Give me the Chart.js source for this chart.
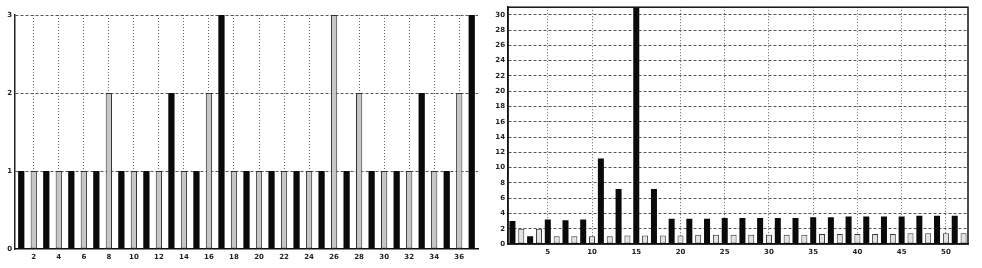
<!DOCTYPE html>
<html>
<head>
<meta charset="utf-8">
<script src="https://cdn.jsdelivr.net/npm/chart.js@4/dist/chart.umd.min.js"></script>
<style>
  html, body { margin: 0; padding: 0; background: #fff; }
  #wrap { position: relative; width: 982px; height: 268px; overflow: hidden; }
  canvas { position: absolute; top: 0; }
  #leftChart { left: 0; }
  #rightChart { left: 492px; }
</style>
</head>
<body>
<div id="wrap">
  <canvas id="leftChart" width="482" height="268"></canvas>
  <canvas id="rightChart" width="490" height="268"></canvas>
</div>
<script>
// Dados do gráfico da esquerda (uma barra por categoria, preta/cinza alternadas)
const leftCategories = [1, 2, 3, 4, 5, 6, 7, 8, 9, 10, 11, 12, 13, 14, 15, 16, 17, 18, 19,
  20, 21, 22, 23, 24, 25, 26, 27, 28, 29, 30, 31, 32, 33, 34, 35, 36, 37];
const leftValues = [1, 1, 1, 1, 1, 1, 1, 2, 1, 1, 1, 1, 2, 1, 1, 2, 3, 1, 1,
  1, 1, 1, 1, 1, 1, 3, 1, 2, 1, 1, 1, 1, 2, 1, 1, 2, 3];
const leftXTicks = [2, 4, 6, 8, 10, 12, 14, 16, 18, 20, 22, 24, 26, 28, 30, 32, 34, 36];
const leftYTicks = [0, 1, 2, 3];

// Dados do gráfico da direita
const rightCategories = [1, 2, 3, 4, 5, 6, 7, 8, 9, 10, 11, 12, 13, 14, 15, 16, 17, 18,
  19, 20, 21, 22, 23, 24, 25, 26, 27, 28, 29, 30, 31, 32, 33, 34, 35, 36, 37, 38, 39, 40,
  41, 42, 43, 44, 45, 46, 47, 48, 49, 50, 51, 52];
const rightValues = [3.0, 2.0, 1.0, 2.0, 3.2, 1.0, 3.1, 1.0, 3.2, 1.0, 11.2, 1.0, 7.2, 1.1,
  32, 1.1, 7.2, 1.1, 3.3, 1.1, 3.3, 1.2, 3.3, 1.2, 3.4, 1.2, 3.4, 1.2, 3.4, 1.2, 3.4, 1.2,
  3.4, 1.2, 3.5, 1.3, 3.5, 1.3, 3.6, 1.3, 3.6, 1.3, 3.6, 1.3, 3.6, 1.4, 3.7, 1.4, 3.7, 1.4,
  3.7, 1.4];
const rightXTicks = [5, 10, 15, 20, 25, 30, 35, 40, 45, 50];
const rightYTicks = [0, 2, 4, 6, 8, 10, 12, 14, 16, 18, 20, 22, 24, 26, 28, 30];

Chart.defaults.font.family = "'DejaVu Sans', sans-serif";
Chart.defaults.font.size = 7;
Chart.defaults.font.weight = "bold";
Chart.defaults.color = "#222";

// Moldura completa (só no gráfico da direita)
const framePlugin = {
  id: "frame",
  afterDatasetsDraw(chart) {
    const { ctx, chartArea: a } = chart;
    ctx.save();
    ctx.strokeStyle = "#111";
    ctx.lineWidth = 1.5;
    ctx.strokeRect(a.left, a.top, a.right - a.left, a.bottom - a.top);
    ctx.restore();
  },
};

function makeChart(id, cfg) {
  const ctx = document.getElementById(id).getContext("2d");
  return new Chart(ctx, {
    type: "bar",
    data: {
      labels: cfg.categories,
      datasets: [
        {
          data: cfg.values,
          // ímpares pretas, pares cinzas
          backgroundColor: (c) => (c.dataIndex % 2 === 0 ? "#0a0a0a" : cfg.grayFill),
          borderColor: (c) => (c.dataIndex % 2 === 0 ? "#0a0a0a" : "#333"),
          borderWidth: (c) => (c.dataIndex % 2 === 0 ? 0 : 1),
          borderSkipped: false,
          barPercentage: cfg.barPct,
          categoryPercentage: 1,
        },
      ],
    },
    options: {
      responsive: false,
      animation: false,
      layout: { padding: cfg.padding },
      plugins: { legend: { display: false }, tooltip: { enabled: false } },
      scales: {
        x: {
          grid: {
            offset: false,
            drawTicks: false,
            color: (c) =>
              cfg.xTicks.includes(cfg.categories[c.index]) ? "#666" : "rgba(0,0,0,0)",
          },
          border: { display: true, color: "#111", width: 1.5, dash: [1, 2] },
          ticks: {
            autoSkip: false,
            maxRotation: 0,
            padding: 4,
            callback: (v, i) => (cfg.xTicks.includes(cfg.categories[i]) ? cfg.categories[i] : ""),
          },
          afterFit: (s) => { s.height = cfg.xHeight; },
        },
        y: {
          min: 0,
          max: cfg.yMax,
          afterBuildTicks: (s) => { s.ticks = cfg.yTicks.map((v) => ({ value: v })); },
          afterFit: (s) => { s.width = cfg.yWidth; },
          grid: {
            drawTicks: false,
            color: (c) => (c.tick && c.tick.value > 0 ? "#555" : "rgba(0,0,0,0)"),
          },
          border: { display: true, color: "#222", width: 1.5, dash: [3, 2] },
          ticks: { padding: 3 },
        },
      },
    },
    plugins: cfg.frame ? [framePlugin] : [],
  });
}

makeChart("leftChart", {
  categories: leftCategories,
  values: leftValues,
  xTicks: leftXTicks,
  yTicks: leftYTicks,
  yMax: 3,
  grayFill: "#c6c6c6",
  barPct: 0.5,
  padding: { top: 15, right: 4, left: 0, bottom: 0 },
  xHeight: 19,
  yWidth: 15,
  frame: false,
});

makeChart("rightChart", {
  categories: rightCategories,
  values: rightValues,
  xTicks: rightXTicks,
  yTicks: rightYTicks,
  yMax: 31,
  grayFill: "#e2e2e2",
  barPct: 0.68,
  padding: { top: 7, right: 14, left: 0, bottom: 0 },
  xHeight: 24,
  yWidth: 16,
  frame: true,
});
</script>
</body>
</html>
